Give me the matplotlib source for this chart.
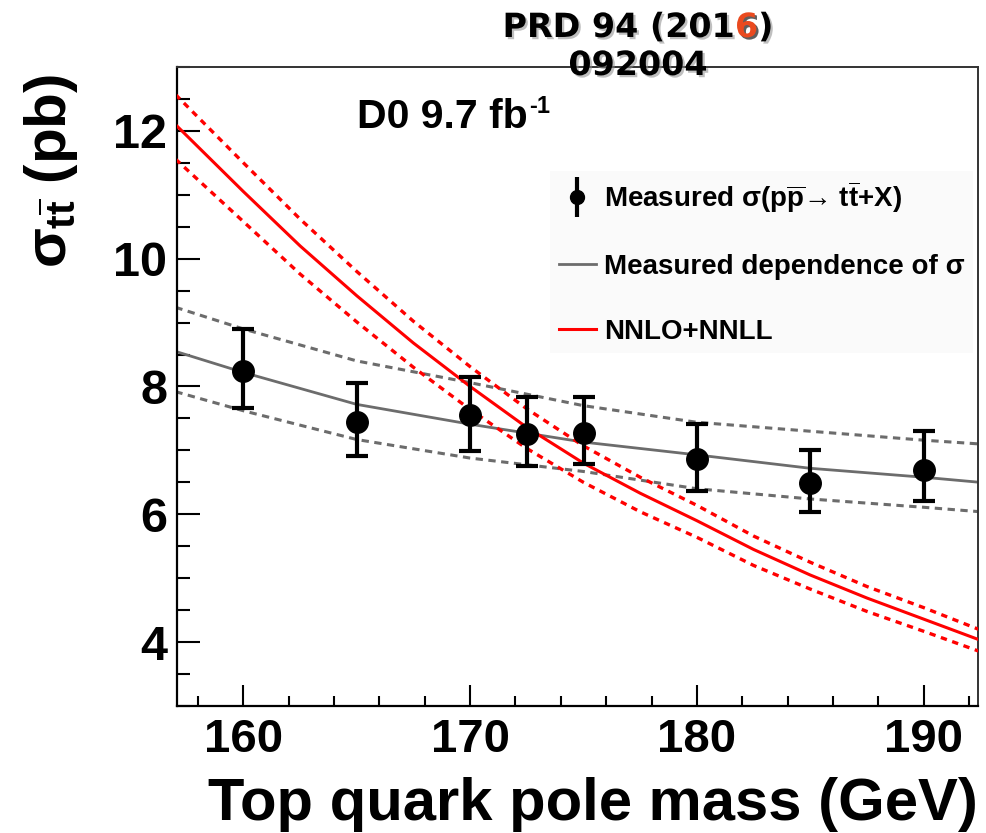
import matplotlib
matplotlib.use("Agg")
import matplotlib.pyplot as plt
import matplotlib.patheffects as pe
from matplotlib.ticker import MultipleLocator
from matplotlib.lines import Line2D
from matplotlib.collections import LineCollection
from matplotlib.container import ErrorbarContainer
from matplotlib.legend_handler import HandlerErrorbar

# ---- measured cross sections (pb) vs assumed top quark mass (GeV) ----
mass = [160, 165, 170, 172.5, 175, 180, 185, 190]
xsec = [8.25, 7.44, 7.55, 7.26, 7.28, 6.86, 6.49, 6.69]
xsec_err_up = [0.65, 0.61, 0.60, 0.58, 0.55, 0.55, 0.51, 0.61]
xsec_err_dn = [0.59, 0.52, 0.56, 0.51, 0.50, 0.49, 0.45, 0.48]

# ---- measured mass dependence of the cross section with its band ----
fit_mass = [157, 160, 165, 170, 175, 180, 185, 190, 192.5]
fit_central = [8.55, 8.22, 7.72, 7.41, 7.13, 6.93, 6.72, 6.58, 6.50]
fit_up = [9.24, 8.90, 8.40, 8.06, 7.70, 7.44, 7.30, 7.16, 7.10]
fit_dn = [7.92, 7.62, 7.17, 6.88, 6.67, 6.40, 6.24, 6.11, 6.04]

# ---- NNLO+NNLL prediction with its uncertainty band ----
theory_mass = [157, 160, 162.5, 165, 167.5, 170, 172.5, 175, 177.5,
               180, 182.5, 185, 187.5, 190, 192.5]
theory_central = [12.10, 11.05, 10.20, 9.42, 8.68, 8.00, 7.36, 6.80, 6.33,
                  5.90, 5.45, 5.05, 4.69, 4.36, 4.03]
theory_up = [12.57, 11.50, 10.62, 9.80, 9.02, 8.31, 7.65, 7.07, 6.58,
             6.14, 5.66, 5.25, 4.87, 4.54, 4.19]
theory_dn = [11.56, 10.58, 9.76, 9.01, 8.30, 7.64, 7.03, 6.50, 6.04,
             5.64, 5.20, 4.83, 4.48, 4.17, 3.85]

legend_labels = [
    "Measured σ(p$\\overline{\\mathrm{p}}$→ t$\\overline{\\mathrm{t}}$+X)",
    "Measured dependence of σ",
    "NNLO+NNLL",
]

plt.rcParams["font.family"] = ["Liberation Sans", "DejaVu Sans"]
plt.rcParams["font.weight"] = "bold"
plt.rcParams["mathtext.fontset"] = "custom"
plt.rcParams["mathtext.rm"] = "Liberation Sans:bold"
plt.rcParams["mathtext.bf"] = "Liberation Sans:bold"
plt.rcParams["mathtext.sf"] = "Liberation Sans:bold"
plt.rcParams["mathtext.it"] = "Liberation Sans"

W, H = 986, 833
fig = plt.figure(figsize=(W / 100, H / 100), dpi=100)
ax = fig.add_axes([177 / W, 1 - 706 / H, (978 - 177) / W, (706 - 67) / H])

gray = "#6c6c6c"
ax.plot(fit_mass, fit_up, color=gray, lw=2.2, ls=(0, (2.4, 1.8)), zorder=2)
ax.plot(fit_mass, fit_dn, color=gray, lw=2.2, ls=(0, (2.4, 1.8)), zorder=2)
fit_line, = ax.plot(fit_mass, fit_central, color=gray, lw=2.0, zorder=2)

ax.plot(theory_mass, theory_up, color="#ff0000", lw=2.4, ls=(0, (1.9, 1.7)), zorder=3)
ax.plot(theory_mass, theory_dn, color="#ff0000", lw=2.4, ls=(0, (1.9, 1.7)), zorder=3)
th_line, = ax.plot(theory_mass, theory_central, color="#ff0000", lw=2.2, zorder=3)

ax.errorbar(mass, xsec, yerr=[xsec_err_dn, xsec_err_up], fmt="o", color="black",
            ms=15.5, elinewidth=3, capsize=8, capthick=3, zorder=4)

ax.set_xlim(157.07, 192.4)
ax.set_ylim(3, 13)
ax.xaxis.set_major_locator(MultipleLocator(10))
ax.xaxis.set_minor_locator(MultipleLocator(2))
ax.yaxis.set_major_locator(MultipleLocator(2))
ax.yaxis.set_minor_locator(MultipleLocator(0.5))

ax.tick_params(which="both", direction="in", top=False, right=False, width=1.5, color="black")
ax.tick_params(axis="x", which="major", length=15, pad=9, labelsize=34)
ax.tick_params(axis="x", which="minor", length=7.5)
ax.tick_params(axis="y", which="major", length=16.5, pad=7, labelsize=35)
ax.tick_params(axis="y", which="minor", length=9.5)
for side in ("left", "bottom"):
    ax.spines[side].set_linewidth(1.6)
for side in ("top", "right"):
    ax.spines[side].set_linewidth(1.4)
    ax.spines[side].set_color("#333333")

ax.set_xlabel("Top quark pole mass (GeV)", fontsize=43, weight="bold", loc="right", va="baseline")
ax.xaxis.set_label_coords(1.0, -0.178)
ax.set_ylabel(r"$\sigma_{\mathrm{t}\overline{\mathrm{t}}}$ (pb)", fontsize=42, weight="bold",
              loc="top", va="baseline")
ax.yaxis.set_label_coords(-0.138, 0.99)

renderer = fig.canvas.get_renderer()

# luminosity label with a small "-1" exponent
lum = ax.text(165.0, 12.05, "D0 9.7 fb", fontsize=29.5, weight="bold",
              ha="left", va="baseline", zorder=5)
lum_box = lum.get_window_extent(renderer)
fig.text((lum_box.x1 + 2) / W, (lum_box.y0 + 7 + 16) / H, "-1", fontsize=17,
         weight="bold", ha="left", va="baseline", zorder=5)

# legend with a point + vertical bar for the measurement
proxy_marker = Line2D([], [], marker="o", ls="none", color="black", ms=10)
proxy_bar = LineCollection([], colors="black", linewidths=3)
pt_proxy = ErrorbarContainer((proxy_marker, (), (proxy_bar,)), has_xerr=False, has_yerr=True)
leg = ax.legend([pt_proxy, fit_line, th_line], legend_labels, loc="upper left",
                bbox_to_anchor=(0.466, 0.838), prop={"size": 20, "weight": "bold"},
                frameon=True, facecolor="#fafafa", edgecolor="none", framealpha=1,
                fancybox=False, handlelength=1.33, handletextpad=0.3,
                labelspacing=1.40, borderpad=0.3, borderaxespad=0,
                handler_map={ErrorbarContainer: HandlerErrorbar(yerr_size=0.72)})
leg.set_zorder(1)

# journal reference above the frame, with a soft drop shadow
title_font = dict(fontsize=24, weight="bold", family="DejaVu Sans")
shadow = [pe.withSimplePatchShadow(offset=(1.6, -1.6), shadow_rgbFace="0.55", alpha=0.55)]


def ink_width(s):
    t = fig.text(0, 0, s, **title_font)
    w = t.get_window_extent(renderer).width
    t.remove()
    return w


cx = 638
w_full = ink_width("PRD 94 (2016)")
x0 = cx - w_full / 2
x_six = x0 + ink_width("PRD 94 (2016") - ink_width("6")
x_close = x0 + w_full - ink_width(")")
y1 = 1 - 37 / H
fig.text(x0 / W, y1, "PRD 94 (201", ha="left", va="baseline", path_effects=shadow,
         zorder=10, **title_font)
fig.text(x_six / W, y1, "6", color="#ea4a1f", ha="left", va="baseline",
         path_effects=[pe.withSimplePatchShadow(offset=(1.6, -1.6), shadow_rgbFace="0.1", alpha=0.7)],
         zorder=10, **title_font)
fig.text(x_close / W, y1, ")", ha="left", va="baseline", path_effects=shadow,
         zorder=10, **title_font)
fig.text(cx / W, 1 - 75 / H, "092004", ha="center", va="baseline", path_effects=shadow,
         zorder=10, **title_font)

fig.savefig("out.png", dpi=100)
